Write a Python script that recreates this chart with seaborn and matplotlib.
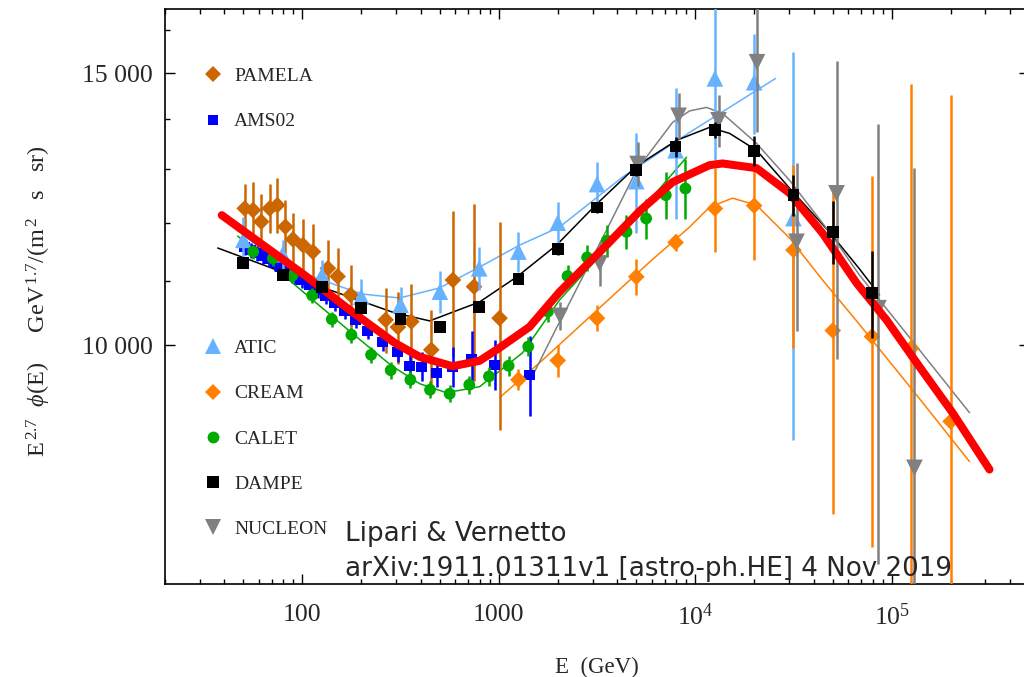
import numpy as np
import pandas as pd
import seaborn as sns
import matplotlib
matplotlib.use("Agg")
import matplotlib.pyplot as plt
from matplotlib.lines import Line2D
from matplotlib.ticker import FixedLocator, FixedFormatter, NullFormatter, LogLocator

# ---- values: E (GeV) and E^2.7 * flux ----
pamela_e = [50.9, 56.1, 61.8, 68.2, 74.6, 82.0, 89.6, 100.7, 113.2, 135.0, 151.2,
            176.1, 265.5, 306.6, 358.7, 453.5, 584.1, 748.6, 1009]
pamela_f = [12261, 12230, 12020, 12261, 12321, 11931, 11708, 11608, 11494, 11214, 11079,
            10777, 10383, 10272, 10357, 9930, 11020, 10911, 10410]
pamela_err = [460, 530, 500, 450, 500, 480, 470, 470, 480, 480, 480,
              500, 500, 550, 600, 600, 1200, 1430, 1600]

ams_e = [50.9, 54.6, 58.5, 62.8, 67.4, 72.3, 77.5, 84.2, 91.4, 99.2, 108.9, 119.6, 131.4,
         146.0, 164.2, 186.7, 214.9, 256.3, 305.5, 351.6, 404.6, 482.6, 582.1, 727.1, 952.0, 1435]
ams_f = [11574, 11522, 11471, 11420, 11369, 11302, 11235, 11169, 11084, 11020, 10938, 10858, 10761,
         10650, 10523, 10383, 10215, 10049, 9901, 9697, 9682, 9596, 9682, 9798, 9711, 9568]
ams_err = [130, 130, 130, 130, 130, 130, 130, 130, 130, 130, 130, 130, 130,
           130, 130, 130, 130, 130, 150, 240, 210, 200, 290, 410, 360, 570]

atic_e = [50.1, 79.4, 125.9, 199.5, 316.2, 501.2, 794.3, 1259, 1995, 3162, 5012, 7943,
          12589, 19953, 31623]
atic_f = [11700, 11450, 11100, 10750, 10620, 10830, 11213, 11497, 12003, 12714, 12770, 13372,
          14885, 14800, 12085]
atic_err = [400, 250, 250, 290, 280, 340, 360, 340, 380, 430, 950, 1300, 1700, 1100, 3400]

cream_e = [1259, 1995, 3162, 5012, 7943, 12589, 19953, 31623, 50119, 79433, 125893, 199526]
cream_f = [9497, 9774, 10410, 11073, 11655, 12259, 12311, 11523, 10220, 10129, 9955, 8925]
cream_err = [150, 235, 200, 300, 140, 770, 960, 1560, 2450, 2730, 4800, 5600]

calet_e = [56.2, 70.8, 89.1, 112.2, 141.3, 177.8, 223.9, 281.8, 354.8, 446.7, 562.3, 707.9,
           891.3, 1122, 1413, 1778, 2239, 2818, 3548, 4467, 5623, 7079, 8913]
calet_f = [11494, 11380, 11092, 10770, 10394, 10154, 9857, 9633, 9497, 9356, 9300, 9426,
           9544, 9697, 9979, 10513, 11085, 11397, 11686, 11841, 12079, 12506, 12630]
calet_err = [120, 120, 120, 120, 120, 120, 120, 120, 120, 120, 120, 130,
             130, 140, 140, 157, 182, 221, 279, 300, 360, 430, 565]

dampe_e = [50.1, 79.4, 125.9, 199.5, 316.2, 501.2, 794.3, 1259, 1995, 3162, 5012, 7943,
           12589, 19953, 31623, 50119, 79433]
dampe_f = [11298, 11100, 10906, 10566, 10394, 10280, 10591, 11030, 11535, 12278, 12990, 13446,
           13785, 13353, 12506, 11840, 10804]
dampe_err = [60, 60, 60, 60, 60, 60, 80, 80, 90, 100, 120, 200, 160, 300, 375, 550, 700]

nucleon_e = [2050, 3260, 5090, 8220, 13140, 20630, 32780, 52380, 85640, 130600]
nucleon_f = [10445, 11296, 13100, 14077, 13983, 15248, 11666, 12540, 10566, 8327]
nucleon_err = [220, 370, 430, 480, 545, 1500, 1460, 2740, 3350, 4700]

# fitted curves (thin lines) and the global fit (thick red)
atic_fit_e = [37.9, 78.5, 125.4, 200.4, 312.7, 499.6, 798.7, 1276, 2039, 4266, 9354, 25630]
atic_fit_f = [12120, 11268, 11020, 10793, 10728, 10890, 11235, 11608, 11925, 12847, 13732, 14883]

dampe_fit_e = [37.1, 79.4, 137.7, 294.9, 444.6, 798.7, 1232, 1968, 3145, 5026, 8031, 11830,
               14950, 20510, 30200, 48270, 68570, 86700]
dampe_fit_f = [11558, 11150, 10858, 10493, 10368, 10665, 11068, 11608, 12339, 13059, 13571, 13836,
               13713, 13371, 12637, 11835, 11203, 10777]

calet_fit_e = [46.9, 96.9, 178.2, 284.8, 395.4, 542.4, 798.7, 1322, 2039, 3259, 5206, 9031]
calet_fit_f = [11766, 10874, 10185, 9697, 9441, 9315, 9399, 9886, 10697, 11420, 12193, 13234]

cream_fit_e = [1009.5, 1613, 3259, 5855, 9354, 11830, 15480, 20510, 30200, 44450, 66220, 94080,
               138500, 248900]
cream_fit_f = [9247, 9740, 10571, 11319, 11925, 12284, 12450, 12321, 11731, 11020, 10368, 9813,
               9233, 8406]

nucleon_fit_e = [1521, 1968, 2374, 3537, 5026, 7666, 9354, 11420, 13770, 20510, 30200, 48270,
                 68570, 109600, 248900]
nucleon_fit_f = [9611, 10261, 10745, 11872, 12981, 13939, 14180, 14254, 14127, 13511, 12786, 11835,
                 11100, 10306, 9042]

global_fit_e = [38.9, 102.7, 174.1, 294.9, 395.4, 582.0, 798.7, 1009.5, 1435, 2039, 2374, 3537,
                5206, 7666, 11830, 13770, 20510, 30200, 44450, 66220, 94080, 138500, 204000, 314700]
global_fit_f = [12138, 11100, 10539, 10034, 9827, 9690, 9769, 9960, 10276, 10825, 11036, 11608,
                12211, 12751, 13078, 13111, 13020, 12544, 11817, 10971, 10383, 9682, 9042, 8307]

# ---- style ----
sns.set_theme(style="ticks")
serif = "Liberation Serif"
plt.rcParams["font.family"] = [serif, "DejaVu Serif"]
plt.rcParams["mathtext.fontset"] = "custom"
plt.rcParams["mathtext.rm"] = serif
plt.rcParams["mathtext.it"] = serif + ":italic"

experiments = {
    # name: (E, F, err, colour, marker, markersize, zorder)
    "PAMELA": (pamela_e, pamela_f, pamela_err, "#CC6600", "D", 8.5, 3),
    "AMS02": (ams_e, ams_f, ams_err, "#0000FF", "s", 7.5, 3),
    "ATIC": (atic_e, atic_f, atic_err, "#66B2FF", "^", 12, 3),
    "CREAM": (cream_e, cream_f, cream_err, "#FF8000", "D", 8.5, 3),
    "CALET": (calet_e, calet_f, calet_err, "#00AA00", "o", 8.5, 3),
    "DAMPE": (dampe_e, dampe_f, dampe_err, "#000000", "s", 8.5, 6),
    "NUCLEON": (nucleon_e, nucleon_f, nucleon_err, "#808080", "v", 12, 3),
}

fits = [
    (atic_fit_e, atic_fit_f, "#66B2FF"),
    (dampe_fit_e, dampe_fit_f, "#000000"),
    (calet_fit_e, calet_fit_f, "#00AA00"),
    (cream_fit_e, cream_fit_f, "#FF8000"),
    (nucleon_fit_e, nucleon_fit_f, "#808080"),
]

fig = plt.figure(figsize=(10.24, 6.77), dpi=100)
ax = fig.add_axes([165 / 1024, (677 - 584.3) / 677, 864 / 1024, 575 / 677])
ax.set_xscale("log")
ax.set_yscale("log")

for fe, ff, c in fits:
    sns.lineplot(x=fe, y=ff, sort=False, estimator=None, color=c, lw=1.1, ax=ax, zorder=2)

for name, (e, f, err, c, m, ms, z) in experiments.items():
    ax.errorbar(e, f, yerr=err, fmt="none", ecolor=c, elinewidth=1.8, capsize=0, zorder=z)
    df = pd.DataFrame({"E": e, "F": f})
    sns.scatterplot(data=df, x="E", y="F", color=c, marker=m, s=ms ** 2,
                    edgecolor="none", linewidth=0, ax=ax, zorder=z)

sns.lineplot(x=global_fit_e, y=global_fit_f, sort=False, estimator=None,
             color="#FF0000", lw=5.8, ax=ax, zorder=5)

ax.set_xlim(20, 5e5)
ax.set_ylim(7000, 16500)

ax.set_xticks([100, 1000, 1e4, 1e5])
ax.set_xticklabels(["100", "1000", r"$10^{4}$", r"$10^{5}$"])
ax.xaxis.set_minor_locator(LogLocator(base=10, subs=np.arange(2, 10)))
ax.xaxis.set_minor_formatter(NullFormatter())
ax.yaxis.set_major_locator(FixedLocator([10000, 15000]))
ax.yaxis.set_major_formatter(FixedFormatter(["10 000", "15 000"]))
ax.yaxis.set_minor_locator(FixedLocator([11000, 12000, 13000, 14000, 16000]))
ax.yaxis.set_minor_formatter(NullFormatter())

ax.tick_params(which="both", direction="in", top=True, right=True, width=1.0,
               color="black", labelsize=18.5)
ax.tick_params(which="major", length=7)
ax.tick_params(which="minor", length=3.4)
ax.tick_params(axis="x", which="major", pad=14)
ax.tick_params(axis="y", which="major", pad=9)
for sp in ax.spines.values():
    sp.set_linewidth(1.2)
    sp.set_color("black")
ax.set_xlabel("")
ax.set_ylabel("")

# legends: two groups
def handles(names):
    out = []
    for n in names:
        e, f, err, c, m, ms, z = experiments[n]
        out.append(Line2D([], [], ls="none", marker=m, color=c, markeredgewidth=0,
                          markersize=ms, label=n))
    return out

leg_kw = dict(frameon=False, fontsize=14, handlelength=0.95, handletextpad=0.6,
              labelspacing=1.42, borderpad=0, borderaxespad=0, loc="upper left",
              bbox_transform=fig.transFigure)
leg1 = ax.legend(handles=handles(["PAMELA", "AMS02"]),
                 bbox_to_anchor=(204 / 1024, (677 - 67.5) / 677), **leg_kw)
ax.add_artist(leg1)
ax.legend(handles=handles(["ATIC", "CREAM", "CALET", "DAMPE", "NUCLEON"]),
          bbox_to_anchor=(204 / 1024, (677 - 339.5) / 677), **leg_kw)

fig.text(597 / 1024, (677 - 673) / 677, "E  (GeV)", ha="center", va="baseline", fontsize=16.5)
fig.text(46 / 1024, (677 - 301) / 677,
         r"E$^{\,2.7}$  $\phi$(E)     GeV$^{\,1.7}$/(m$^{\,2}$   s   sr)",
         rotation=90, rotation_mode="anchor", ha="center", va="baseline", fontsize=17.5)

fig.text(345 / 1024, (677 - 541) / 677, "Lipari & Vernetto", fontsize=18.8,
         family="DejaVu Sans", va="baseline")
fig.text(345 / 1024, (677 - 576) / 677, "arXiv:1911.01311v1 [astro-ph.HE] 4 Nov 2019",
         fontsize=18.8, family="DejaVu Sans", va="baseline")

fig.savefig("out.png", dpi=100)
